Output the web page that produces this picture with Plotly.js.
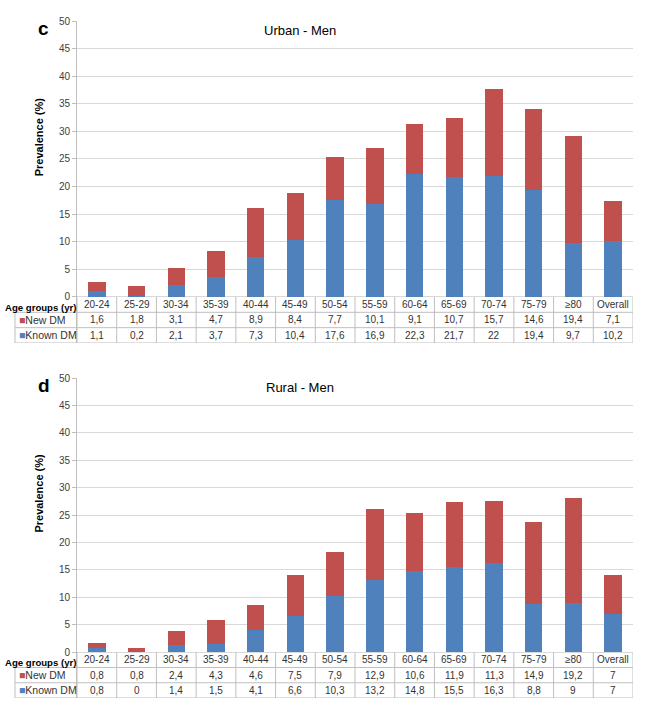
<!DOCTYPE html>
<html>
<head>
<meta charset="utf-8">
<script src="https://cdn.plot.ly/plotly-3.0.1.min.js"></script>
<style>
  html, body { margin: 0; padding: 0; background: #fff; }
  #chart { width: 649px; height: 705px; }
</style>
</head>
<body>
<div id="chart"></div>
<script>
const ageGroups = ['20-24','25-29','30-34','35-39','40-44','45-49','50-54','55-59','60-64','65-69','70-74','75-79','≥80','Overall'];
const urbanNewDM   = [1.6, 1.8, 3.1, 4.7, 8.9, 8.4, 7.7, 10.1, 9.1, 10.7, 15.7, 14.6, 19.4, 7.1];
const urbanKnownDM = [1.1, 0.2, 2.1, 3.7, 7.3, 10.4, 17.6, 16.9, 22.3, 21.7, 22, 19.4, 9.7, 10.2];
const ruralNewDM   = [0.8, 0.8, 2.4, 4.3, 4.6, 7.5, 7.9, 12.9, 10.6, 11.9, 11.3, 14.9, 19.2, 7];
const ruralKnownDM = [0.8, 0, 1.4, 1.5, 4.1, 6.6, 10.3, 13.2, 14.8, 15.5, 16.3, 8.8, 9, 7];
const yTicks = [0, 5, 10, 15, 20, 25, 30, 35, 40, 45, 50];

const RED = '#C0504D', BLUE = '#4F81BD';
const GRID = '#D9D9D9', LINE = '#BFBFBF';
const FONT = 'Liberation Sans, Arial, sans-serif';
const fmt = v => String(v).replace('.', ',');

// table geometry in data units (below zero)
const ROW = 2.78;
const YMIN = -3 * ROW;
const LABEL_LEFT = -0.1115; // paper x of label-cell left border

const traces = [];
const annotations = [];
const shapes = [];

function panel(xa, ya, newVals, knownVals, letter, title) {
  const xr = xa, yr = ya;
  traces.push({
    type: 'bar', x: ageGroups, y: knownVals, name: 'Known DM',
    marker: { color: BLUE }, xaxis: xa, yaxis: ya
  });
  traces.push({
    type: 'bar', x: ageGroups, y: newVals, name: 'New DM',
    marker: { color: RED }, xaxis: xa, yaxis: ya
  });
  ageGroups.forEach((g, i) => {
    annotations.push({ xref: xr, yref: yr, x: i, y: -ROW * 0.5, text: g, showarrow: false,
      font: { family: FONT, size: 10, color: '#333' } });
    annotations.push({ xref: xr, yref: yr, x: i, y: -ROW * 1.5, text: fmt(newVals[i]), showarrow: false,
      font: { family: FONT, size: 10, color: '#333' } });
    annotations.push({ xref: xr, yref: yr, x: i, y: -ROW * 2.5, text: fmt(knownVals[i]), showarrow: false,
      font: { family: FONT, size: 10, color: '#333' } });
  });
  for (let i = 0; i <= ageGroups.length; i++) {
    shapes.push({ type: 'line', xref: xr, yref: yr, x0: i - 0.5, x1: i - 0.5, y0: 0, y1: YMIN,
      line: { color: LINE, width: 1 } });
  }
  [1, 2, 3].forEach(k => {
    shapes.push({ type: 'line', xref: 'paper', yref: yr, x0: LABEL_LEFT, x1: 1, y0: -ROW * k, y1: -ROW * k,
      line: { color: LINE, width: 1 } });
  });
  shapes.push({ type: 'line', xref: 'paper', yref: yr, x0: LABEL_LEFT, x1: LABEL_LEFT, y0: -ROW, y1: YMIN,
    line: { color: LINE, width: 1 } });
  annotations.push({ xref: 'paper', yref: yr, x: -0.133, y: -ROW * 0.68, xanchor: 'left',
    text: '<b>Age groups (yr)</b>', showarrow: false, font: { family: FONT, size: 9.6, color: '#000' } });
  annotations.push({ xref: 'paper', yref: yr, x: -0.108, y: -ROW * 1.5, xanchor: 'left',
    text: '<span style="color:' + RED + '">■</span>New DM', showarrow: false,
    font: { family: FONT, size: 10.5, color: '#333' } });
  annotations.push({ xref: 'paper', yref: yr, x: -0.108, y: -ROW * 2.5, xanchor: 'left',
    text: '<span style="color:' + BLUE + '">■</span>Known DM', showarrow: false,
    font: { family: FONT, size: 10.5, color: '#333' } });
  annotations.push({ xref: 'paper', yref: yr, x: -0.074, y: 48.7, text: '<b>' + letter + '</b>',
    showarrow: false, font: { family: FONT, size: 19, color: '#000' } });
  annotations.push({ xref: 'paper', yref: yr, x: 0.401, y: 48.2, text: title,
    showarrow: false, font: { family: FONT, size: 13, color: '#000' } });
  annotations.push({ xref: 'paper', yref: yr, x: -0.082, y: 29, text: '<b>Prevalence (%)</b>', textangle: -90,
    showarrow: false, font: { family: FONT, size: 11, color: '#000' } });
}

panel('x', 'y', urbanNewDM, urbanKnownDM, 'c', 'Urban - Men');
panel('x2', 'y2', ruralNewDM, ruralKnownDM, 'd', 'Rural - Men');

const xCommon = {
  type: 'category', range: [-0.5, 13.5], showticklabels: false, showgrid: false,
  zeroline: false, showline: false, ticks: '', fixedrange: true
};
const yCommon = {
  range: [YMIN, 50], tickvals: yTicks, showgrid: true, gridcolor: GRID, gridwidth: 1,
  zeroline: false, showline: true, linecolor: LINE, linewidth: 1,
  ticks: 'outside', ticklen: 4, tickcolor: LINE,
  tickfont: { family: FONT, size: 10, color: '#404040' }, fixedrange: true
};

const layout = {
  width: 649, height: 705,
  margin: { l: 77, r: 16, t: 0, b: 0 },
  paper_bgcolor: '#fff', plot_bgcolor: '#fff',
  barmode: 'stack', bargap: 0.56, showlegend: false,
  xaxis: Object.assign({}, xCommon, { anchor: 'y', domain: [0, 1] }),
  xaxis2: Object.assign({}, xCommon, { anchor: 'y2', domain: [0, 1] }),
  yaxis: Object.assign({}, yCommon, { anchor: 'x', domain: [1 - 343 / 705, 1 - 21 / 705] }),
  yaxis2: Object.assign({}, yCommon, { anchor: 'x2', domain: [1 - 698 / 705, 1 - 378 / 705] }),
  annotations: annotations,
  shapes: shapes
};

Plotly.newPlot('chart', traces, layout, { displayModeBar: false, staticPlot: true });
</script>
</body>
</html>
